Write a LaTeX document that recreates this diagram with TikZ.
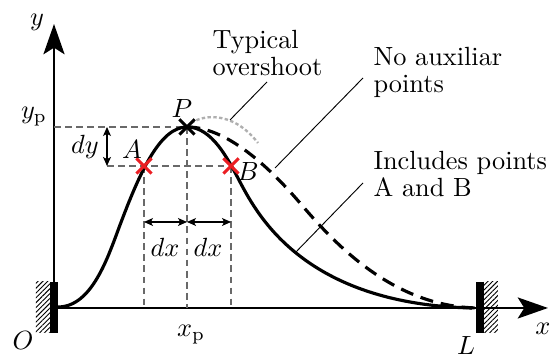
\documentclass[tikz,border=0pt]{standalone}
\usepackage{xcolor}
\usepackage{tikz}
\usetikzlibrary{arrows.meta,patterns.meta,shapes.misc}
\usepackage{amsmath}
\definecolor{markRed}{RGB}{235,30,35}
\definecolor{guideGray}{RGB}{105,105,105}
\definecolor{overGray}{RGB}{175,175,175}
\newcommand{\pval}[1]{\ensuremath{#1_{\mathrm{p}}}}

\begin{document}
\begin{tikzpicture}[x=0.38pt,y=0.38pt,
  every node/.style={font=\fontsize{10}{10.3}\selectfont},
  axis/.style={line width=1pt,-{Stealth[length=11.5pt,width=8pt,inset=2.5pt]}},
  guide/.style={guideGray,line width=0.4pt,dash pattern=on 2.6pt off 1.6pt},
  leader/.style={line width=0.35pt},
  dimarrow/.style={line width=0.45pt,{Stealth[length=3.4pt,width=3pt,inset=0.8pt]}-{Stealth[length=3.4pt,width=3pt,inset=0.8pt]}},
  crossmark/.style={cross out,draw,line width=1.2pt,minimum size=4.6pt,inner sep=0pt},
  hatch/.style={pattern={Lines[angle=45,distance=1.3pt,line width=0.35pt]}},
  note/.style={anchor=north west,align=left,inner sep=0pt}]
  \useasboundingbox (0,0) rectangle (554,358);
  \coordinate (O) at (54,50);
  \coordinate (xend) at (548,50);
  \coordinate (yend) at (54,334);
  \draw[axis] (O) -- (xend);
  \draw[axis] (O) -- (yend);
  \fill[hatch] (36,25) rectangle (50,76);
  \fill (50,25) rectangle (58,76);
  \fill[hatch] (484,25) rectangle (498,76);
  \fill (476,25) rectangle (484,76);
  \coordinate (Pc) at (187,231);
  \coordinate (Ac) at (144,192);
  \coordinate (Bc) at (231,192);
  \coordinate (dyhi) at (107,231);
  \coordinate (dylo) at (107,192);
  \coordinate (dxl) at (144,136);
  \coordinate (dxm) at (187,136);
  \coordinate (dxr) at (231,136);
  \draw[guide] (O |- Pc) -- (Pc);
  \draw[guide] (dylo) -- (Bc);
  \draw[guide] (Ac) -- (Ac |- O);
  \draw[guide] (Pc) -- (Pc |- O);
  \draw[guide] (Bc) -- (Bc |- O);
  \draw[dimarrow] (dyhi) -- (dylo);
  \draw[dimarrow] (dxl) -- (dxm);
  \draw[dimarrow] (dxm) -- (dxr);
  \draw[overGray,line width=0.9pt,dash pattern=on 1.3pt off 0.9pt] (Pc) .. controls (198,244) and (232,249) .. (258,215);
  \draw[line width=1.2pt,dash pattern=on 5pt off 3pt] (Pc) .. controls (230,231) and (275,184) .. (300,155)
    .. controls (330,120) and (390,51) .. (478,50);
  \draw[line width=1.2pt] (58,51) .. controls (92,51) and (108,101) .. (120,133)
    .. controls (140,186) and (160,231) .. (Pc)
    .. controls (212,231) and (228,199) .. (240,176)
    .. controls (258,142) and (305,54) .. (472,50);
  \node[crossmark,markRed] (A) at (Ac) {};
  \node[crossmark,markRed] (B) at (Bc) {};
  \node[crossmark] (P) at (Pc) {};
  \node (ylab) at (37,336) {$y$};
  \node (olab) at (23,17) {$O$};
  \node (xlab) at (543,29) {$x$};
  \node (llab) at (466,12) {$L$};
  \node (xplab) at (191,23) {\pval{x}};
  \node (yplab) at (34,241) {\pval{y}};
  \node (plab) at (182,249) {$P$};
  \node (alab) at (132,208) {$A$};
  \node (blab) at (248,186) {$B$};
  \node (dylab) at (85,211) {$dy$};
  \node (dxllab) at (165,111) {$dx$};
  \node (dxrlab) at (208,111) {$dx$};
  \node[note] (typ) at (212,328) {Typical\\overshoot};
  \node[note] (noaux) at (373,311) {No auxiliar\\points};
  \node[note] (incl) at (373,207) {Includes points\\A and B};
  \coordinate (typfoot) at (267,276);
  \coordinate (typtip) at (230,238);
  \coordinate (noauxfoot) at (363,280);
  \coordinate (noauxtip) at (275,190);
  \coordinate (inclfoot) at (363,175);
  \coordinate (incltip) at (295,105);
  \draw[leader] (typfoot) -- (typtip);
  \draw[leader] (noauxfoot) -- (noauxtip);
  \draw[leader] (inclfoot) -- (incltip);
\end{tikzpicture}
\end{document}
